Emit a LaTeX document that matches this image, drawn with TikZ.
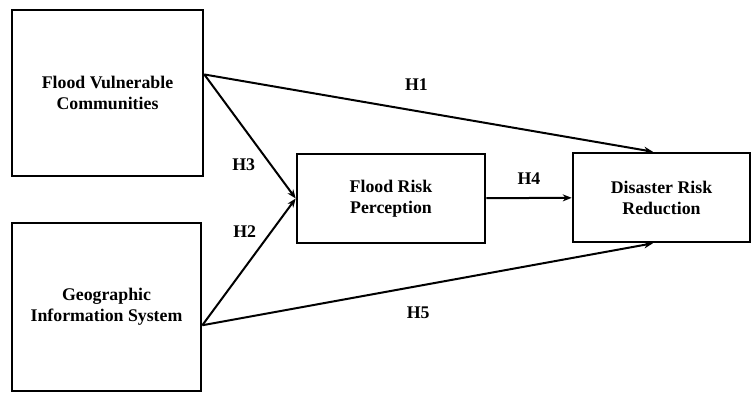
\documentclass[tikz,border=0pt]{standalone}
\usepackage{fontspec}
\setmainfont{Liberation Serif}
\usetikzlibrary{arrows.meta,calc}
\begin{document}
\begin{tikzpicture}[x=1pt,y=-1pt,
  >={Stealth[length=9pt,width=7pt]},
  var/.style={draw,line width=2.6pt,align=center,inner sep=0pt,
    font=\fontsize{17.8}{21}\selectfont\bfseries},
  hyp/.style={inner sep=2pt,font=\fontsize{17.8}{21}\selectfont\bfseries},
  link/.style={->,line width=2pt}]
  \useasboundingbox (0,0) rectangle (751,392);

  \node[var,minimum width=191pt,minimum height=166pt] (fvc) at (107.5,93) {Flood Vulnerable\\Communities};
  \node[var,minimum width=189pt,minimum height=168pt] (gis) at (106.5,307) {Geographic\\Information System};
  \node[var,minimum width=188pt,minimum height=89pt] (frp) at (391,198.5) {Flood Risk\\Perception};
  \node[var,minimum width=177pt,minimum height=89pt] (drr) at (661.5,197.5) {Disaster Risk\\Reduction};

  % where the arrows leave and meet the boxes
  \coordinate (fvcout) at ($(fvc.north east)!0.39!(fvc.south east)$);
  \coordinate (gisout) at ($(gis.north east)!0.607!(gis.south east)$);
  \coordinate (drrtop) at ($(drr.north west)!0.452!(drr.north east)$);
  \coordinate (drrbot) at ($(drr.south west)!0.452!(drr.south east)$);

  \draw[link] (fvcout) -- node[hyp,pos=0.473,above=17pt]{H1} (drrtop);
  \draw[link] (fvcout) -- node[hyp,pos=0.73,left=13pt]{H3} (frp.west);
  \draw[link] (gisout) -- node[hyp,pos=0.736,left=12pt]{H2} (frp.west);
  \draw[link] (frp) -- node[hyp,above=10pt]{H4} (drr);
  \draw[link] (gisout) -- node[hyp,pos=0.479,below=18pt]{H5} (drrbot);
\end{tikzpicture}
\end{document}
